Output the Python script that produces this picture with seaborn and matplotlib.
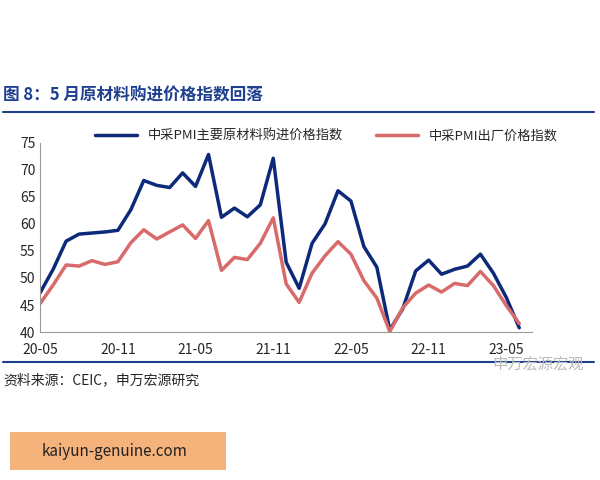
import matplotlib
matplotlib.use("Agg")
import matplotlib.pyplot as plt
import seaborn as sns
import pandas as pd

sns.set_style("white")
plt.rcParams['font.family'] = ['Noto Sans CJK SC', 'DejaVu Sans']

input_price = [47.3, 51.6, 56.8, 58.1, 58.3, 58.5, 58.8, 62.6, 68.0, 67.1, 66.7, 69.4, 66.9,
               72.8, 61.2, 62.9, 61.3, 63.5, 72.1, 52.9, 48.1, 56.4, 60.0, 66.1, 64.2, 55.8,
               52.0, 40.4, 44.3, 51.3, 53.3, 50.7, 51.6, 52.2, 54.4, 50.9, 46.4, 40.8]
output_price = [45.3, 48.7, 52.4, 52.2, 53.2, 52.5, 53.0, 56.5, 58.9, 57.2, 58.5, 59.8, 57.3,
                60.6, 51.4, 53.8, 53.4, 56.4, 61.1, 48.9, 45.5, 50.9, 54.1, 56.7, 54.4, 49.5,
                46.3, 40.1, 44.5, 47.2, 48.7, 47.4, 49.0, 48.6, 51.2, 48.6, 44.9, 41.6]
tick_labels = ["20-05", "20-11", "21-05", "21-11", "22-05", "22-11", "23-05"]

df = pd.DataFrame({"x": range(len(input_price)), "a": input_price, "b": output_price})

fig = plt.figure(figsize=(6, 4.8), dpi=100)
ax = fig.add_axes([0.067, 0.308, 0.82, 0.395])
sns.lineplot(data=df, x="x", y="a", color="#0d2a7a", lw=2.5, ax=ax, label="中采PMI主要原材料购进价格指数")
sns.lineplot(data=df, x="x", y="b", color="#d96a6a", lw=2.5, ax=ax, label="中采PMI出厂价格指数")
ax.set_xlim(0, 38)
ax.set_ylim(40, 75)
ax.set_yticks(range(40, 76, 5))
ax.set_xticks(range(0, 37, 6))
ax.set_xticklabels(tick_labels)
ax.set_xlabel("")
ax.set_ylabel("")
ax.tick_params(labelsize=10, length=0)
ax.tick_params(axis="x", length=4, color="#999999", direction="out")
for s in ["top", "right"]:
    ax.spines[s].set_visible(False)
for s in ["left", "bottom"]:
    ax.spines[s].set_color("#999999")
ax.legend(loc="lower left", bbox_to_anchor=(0.1, 0.97), ncol=2, frameon=False,
          fontsize=9.5, handlelength=3.2, columnspacing=2.5, borderaxespad=0)

fig.text(0.005, 0.79, "图 8：5 月原材料购进价格指数回落", fontsize=12, fontweight="bold", color="#1f3f8f")
fig.add_artist(plt.Line2D([0.005, 0.99], [0.767, 0.767], color="#1f3f8f", lw=1.5))
fig.add_artist(plt.Line2D([0.005, 0.99], [0.245, 0.245], color="#1f3f8f", lw=1.5))
fig.text(0.005, 0.2, "资料来源：CEIC，申万宏源研究", fontsize=10)
fig.text(0.82, 0.232, "申万宏源宏观", fontsize=11, color="#bbbbbb")
fig.patches.append(plt.Rectangle((0.017, 0.02), 0.36, 0.08, transform=fig.transFigure,
                                 facecolor="#f5b27a", edgecolor="none"))
fig.text(0.07, 0.06, "kaiyun-genuine.com", fontsize=11, va="center", color="#222222")

fig.savefig("out.png", dpi=100)
